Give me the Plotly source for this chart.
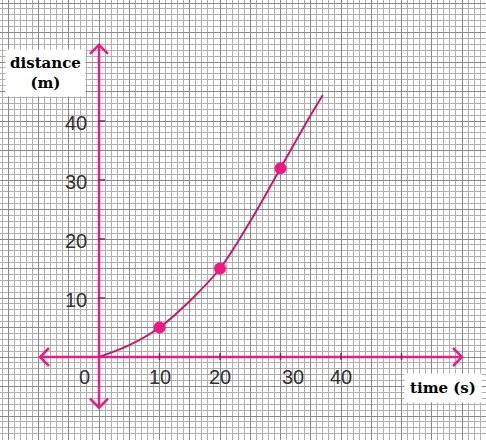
import plotly.graph_objects as go

# ---- data ----
curve_t = [0, 5, 10, 15, 20, 25, 30, 35, 37]
curve_d = [0, 2.0, 5.0, 9.5, 15.0, 23.0, 32.0, 41.0, 44.4]
point_t = [10, 20, 30]
point_d = [5, 15, 32]
x_ticks = [10, 20, 30, 40, 50]
x_tick_labels = ["10", "20", "30", "40", ""]
y_ticks = [10, 20, 30, 40]
y_tick_labels = ["10", "20", "30", "40"]
x_axis_ends = [-9.75, 60.0]
y_axis_ends = [-8.6, 52.9]

PINK = "#e21f84"
CURVE = "#c8186f"
DOT = "#ee1a84"

# pixel scale (px per unit) used for arrow/tick sizes
PX_X = 6.05
PX_Y = 5.9
W, H = 486, 440
X0_PX, Y0_PX = 99, 357
xr = [-X0_PX / PX_X, (W - X0_PX) / PX_X]
yr = [(Y0_PX - H) / PX_Y, Y0_PX / PX_Y]

fig = go.Figure()

# axes lines
fig.add_trace(go.Scatter(x=x_axis_ends, y=[0, 0], mode="lines",
                         line=dict(color=PINK, width=2.5), hoverinfo="skip"))
fig.add_trace(go.Scatter(x=[0, 0], y=y_axis_ends, mode="lines",
                         line=dict(color=PINK, width=2.5), hoverinfo="skip"))

# arrow chevrons
a = 9  # arm length px
ax = a / PX_X
ay = a / PX_Y
chev_x = []
chev_y = []
e = x_axis_ends[1]
chev_x += [e - ax, e, e - ax, None]
chev_y += [ay, 0, -ay, None]
e = x_axis_ends[0]
chev_x += [e + ax, e, e + ax, None]
chev_y += [ay, 0, -ay, None]
e = y_axis_ends[1]
chev_x += [-ax, 0, ax, None]
chev_y += [e - ay, e, e - ay, None]
e = y_axis_ends[0]
chev_x += [-ax, 0, ax, None]
chev_y += [e + ay, e, e + ay, None]
fig.add_trace(go.Scatter(x=chev_x, y=chev_y, mode="lines",
                         line=dict(color=PINK, width=2.5), hoverinfo="skip"))

# tick marks
tx, ty = [], []
for t in x_ticks:
    tx += [t, t, None]
    ty += [-3 / PX_Y, 4 / PX_Y, None]
for v in y_ticks:
    tx += [-1 / PX_X, 6 / PX_X, None]
    ty += [v, v, None]
fig.add_trace(go.Scatter(x=tx, y=ty, mode="lines",
                         line=dict(color="#7a2a55", width=1.5), hoverinfo="skip"))

# curve and points
fig.add_trace(go.Scatter(x=curve_t, y=curve_d, mode="lines",
                         line=dict(color=CURVE, width=2, shape="spline"),
                         hoverinfo="skip"))
fig.add_trace(go.Scatter(x=point_t, y=point_d, mode="markers",
                         marker=dict(color=DOT, size=12), hoverinfo="skip"))

# tick labels
lab_font = dict(family="Liberation Sans, Arial", size=20, color="#333333")
shifts = {30: 12}
for t, s in zip(x_ticks, x_tick_labels):
    if s:
        fig.add_annotation(x=t, y=-20 / PX_Y, text=s, showarrow=False,
                           xshift=shifts.get(t, 0), font=lab_font,
                           xanchor="center", yanchor="middle")
fig.add_annotation(x=-15 / PX_X, y=-20 / PX_Y, text="0", showarrow=False,
                   font=lab_font, xanchor="center", yanchor="middle")
for v, s in zip(y_ticks, y_tick_labels):
    fig.add_annotation(x=-10 / PX_X, y=v, text=s, showarrow=False,
                       yshift=-2, font=lab_font, xanchor="right", yanchor="middle")

# axis titles in white boxes
title_font = dict(family="DejaVu Serif", size=15, color="black")
fig.add_annotation(x=-54 / PX_X, y=(Y0_PX - 73) / PX_Y,
                   text="<b>distance</b><br><b>(m)</b>", showarrow=False,
                   font=title_font, bgcolor="white", borderpad=4,
                   xanchor="center", yanchor="middle")
fig.add_annotation(x=(443 - X0_PX) / PX_X, y=(Y0_PX - 388) / PX_Y,
                   text="<b>time (s)</b>", showarrow=False,
                   font=title_font, bgcolor="white", borderpad=5,
                   xanchor="center", yanchor="middle")

grid_axis = dict(showgrid=True, gridcolor="#8a8a8a", gridwidth=1,
                 dtick=5, tick0=0, showticklabels=False, ticks="",
                 zeroline=False, showline=False, fixedrange=True,
                 minor=dict(showgrid=True, gridcolor="#b0b0b0", gridwidth=1, dtick=1))

fig.update_layout(
    width=W, height=H, autosize=False,
    margin=dict(l=0, r=0, t=0, b=0),
    paper_bgcolor="white", plot_bgcolor="white",
    showlegend=False,
    xaxis=dict(range=xr, **grid_axis),
    yaxis=dict(range=yr, **grid_axis),
)

fig.write_html("out.html", config={"displayModeBar": False},
               post_script="document.body.style.margin='0';document.body.style.overflow='hidden';")
